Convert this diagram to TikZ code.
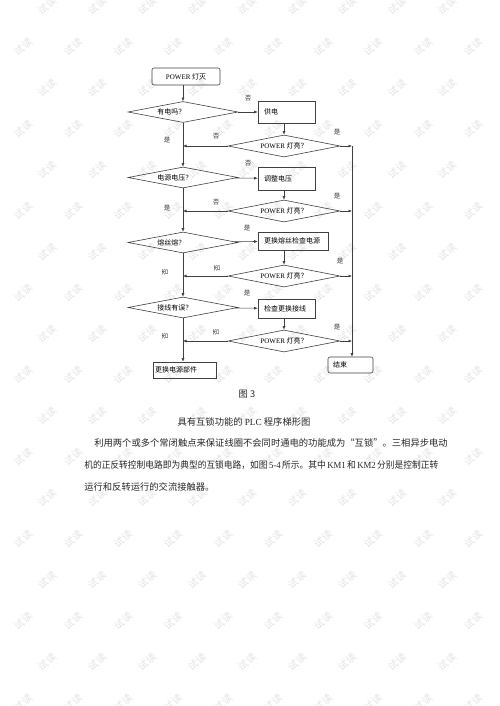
\documentclass[tikz,border=0pt]{standalone}
\usepackage{fontspec}
\setmainfont{Liberation Serif}
\newfontfamily\cjk{Noto Sans CJK SC}
\usetikzlibrary{arrows.meta}
\usetikzlibrary{shapes.geometric}
\tikzset{
	every path/.style={line width=0.6pt},
	flow/.style={
		draw=black!75,
		-{Latex[length=3.5pt,width=3pt]}
	},
	proc/.style={
		draw=black!75,
		rectangle,
		inner xsep=6pt,
		inner ysep=0pt,
		align=left,
		font=\cjk\fontsize{7}{8}\selectfont,
	},
	decide/.style={
		draw=black!75,
		diamond,
		aspect=5,
		inner sep=0pt,
		minimum width=110pt,
		minimum height=21pt,
		font=\cjk\fontsize{7}{8}\selectfont,
	},
	check/.style={
		decide,
		minimum width=112pt,
		minimum height=22pt,
	},
	dtext/.style={anchor=west, inner sep=0pt, font=\cjk\fontsize{7}{8}\selectfont},
	yesno/.style={inner sep=0pt, font=\cjk\fontsize{6.5}{7}\selectfont, text=black!80},
	wmark/.style={inner sep=0pt, rotate=38, text=black!11, font=\cjk\fontsize{10}{10}\selectfont},
	body/.style={inner sep=0pt, text=black!85, font=\cjk\fontsize{9.3}{11}\selectfont},
}

\begin{document}
\begin{tikzpicture}[x=1pt, y=-1pt]
	\useasboundingbox (0,0) rectangle (499,706);

	% watermark
	\foreach \wy in {6,88,...,662}
		\foreach \wx in {47,97,...,447}
			\node[wmark] (wa-\wx-\wy) at (\wx,\wy) {试读};
	\foreach \wy in {47,129,...,703}
		\foreach \wx in {23,73,...,473}
			\node[wmark] (wb-\wx-\wy) at (\wx,\wy) {试读};

	% left column
	\node[proc, rounded corners=2pt, minimum width=68pt, minimum height=17pt, align=center] (start) at (186,76.5) {\textrm{POWER} 灯灭};
	\node[decide] (d1) at (183,112) {};
	\node[dtext] (d1t) at (157,112) {有电吗？};
	\node[decide] (d2) at (183,177.5) {};
	\node[dtext] (d2t) at (157,177.5) {电源电压？};
	\node[decide] (d3) at (183,242.5) {};
	\node[dtext] (d3t) at (157,242.5) {熔丝熔？};
	\node[decide] (d4) at (183,307.5) {};
	\node[dtext] (d4t) at (157,307.5) {接线有误？};
	\node[proc, inner xsep=2pt, text width=59pt, minimum height=16pt] (repl) at (184.5,370) {更换电源部件};

	% right column
	\node[proc, text width=45pt, minimum height=22pt] (supply) at (286.5,112) {供电};
	\node[check] (p1) at (284,146) {\textrm{POWER} 灯亮？};
	\node[proc, text width=45pt, minimum height=23pt] (adjust) at (286.5,178.5) {调整电压};
	\node[check] (p2) at (284,211) {\textrm{POWER} 灯亮？};
	\node[proc, text width=58pt, minimum height=18pt] (fuse) at (293,241) {更换熔丝检查电源};
	\node[check] (p3) at (284,276) {\textrm{POWER} 灯亮？};
	\node[proc, text width=45pt, minimum height=19pt] (wire) at (286.5,308.5) {检查更换接线};
	\node[check] (p4) at (284,341) {\textrm{POWER} 灯亮？};
	\node[proc, rounded corners=2pt, inner xsep=5pt, text width=35pt, minimum height=16pt] (end) at (350.5,365) {结束};
	\coordinate (rail) at (352,146);

	\draw[flow] (start.south -| d1) -- (d1);
	\draw[flow] (d1) -- (d2);
	\draw[flow] (d2) -- (d3);
	\draw[flow] (d3) -- (d4);
	\draw[flow] (d4.south) -- (d4.south |- repl.north);

	\draw[flow] (d1) -- (supply);
	\draw[flow] (d2) -- (adjust);
	\draw[flow] (d3) -- (fuse);
	\draw[flow] (d4) -- (wire);

	\draw[flow] (supply.south -| p1) -- (p1);
	\draw[flow] (adjust.south -| p2) -- (p2);
	\draw[flow] (fuse.south -| p3) -- (p3);
	\draw[flow] (wire.south -| p4) -- (p4);

	\draw[flow] (p1.west) -- (p1.west -| d1);
	\draw[flow] (p2.west) -- (p2.west -| d1);
	\draw[flow] (p3.west) -- (p3.west -| d1);
	\draw[flow] (p4.west) -- (p4.west -| d1);

	\draw[flow] (p1.east) -- (rail);
	\draw[flow] (p2.east) -- (p2.east -| rail);
	\draw[flow] (p3.east) -- (p3.east -| rail);
	\draw[flow] (p4.east) -- (p4.east -| rail);
	\draw[flow] (rail) -- (end.north -| rail);

	% yes / no
	\node[yesno] (n1) at (248,98) {否};
	\node[yesno] (n2) at (216,136) {否};
	\node[yesno] (y2) at (337,132) {是};
	\node[yesno] (y1) at (167,140) {是};
	\node[yesno] (n3) at (248,163) {否};
	\node[yesno] (n4) at (216,202) {否};
	\node[yesno] (y4) at (337,196) {是};
	\node[yesno] (y3) at (167,208) {是};
	\node[yesno] (y5) at (247,228) {是};
	\node[yesno, rotate=90] (n5) at (165,272) {否};
	\node[yesno, rotate=90] (n6) at (217,268) {否};
	\node[yesno] (y6) at (340,261) {是};
	\node[yesno] (y7) at (247,293) {是};
	\node[yesno, rotate=90] (n7) at (216,332) {否};
	\node[yesno] (y8) at (337,327) {是};
	\node[yesno, rotate=90] (n8) at (165,336) {否};

	% caption and text
	\node[body] (fig) at (247,394) {图 3};
	\node[body] (cap) at (244,422) {具有互锁功能的 \textrm{PLC} 程序梯形图};
	\node[body, anchor=west] (line1) at (94,443) {利用两个或多个常闭触点来保证线圈不会同时通电的功能成为“互锁”。三相异步电动};
	\node[body, anchor=west] (line2) at (84,465) {\resizebox{354pt}{\height}{机的正反转控制电路即为典型的互锁电路，如图\,\textrm{5-4}\,所示。其中\,\textrm{KM1}\,和\,\textrm{KM2}\,分别是控制正转}};
	\node[body, anchor=west] (line3) at (84,487) {运行和反转运行的交流接触器。};
\end{tikzpicture}
\end{document}
